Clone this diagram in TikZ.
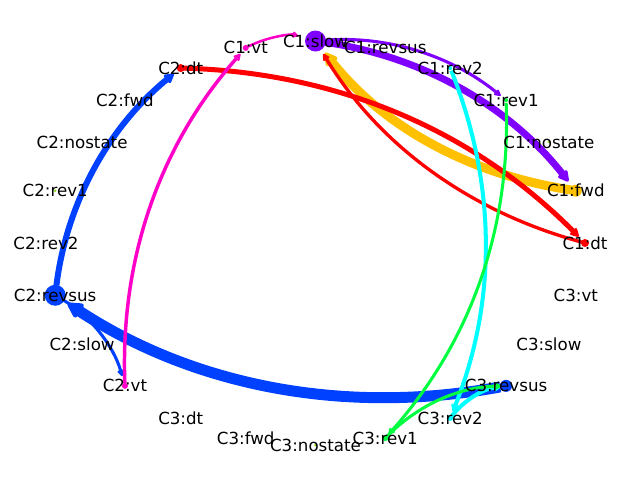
\documentclass[tikz,border=0pt]{standalone}
\usepackage{fontspec}
\setmainfont{DejaVu Sans}
\usetikzlibrary{arrows.meta}

\definecolor{cpurple}{RGB}{128,0,255}
\definecolor{cblue}{RGB}{0,64,255}
\definecolor{ccyan}{RGB}{0,255,255}
\definecolor{cgreen}{RGB}{0,255,64}
\definecolor{clime}{RGB}{150,220,40}
\definecolor{corange}{RGB}{255,192,0}
\definecolor{cred}{RGB}{255,0,0}
\definecolor{cmagenta}{RGB}{255,0,200}

\begin{document}
\begin{tikzpicture}[x=0.72pt,y=-0.72pt,
  font=\fontsize{12}{14}\selectfont,
  edge/.style={-{Triangle[round,length=2.5pt 1.3,width=2.5pt 1.3]},
               bend left=21.8, looseness=0.917},
  lbl/.style={inner sep=0pt, text=black},
  dot/.style={fill=#1, draw=none}]
\useasboundingbox (0,0) rectangle (640,480);

% nodes on an ellipse, 15 degrees apart
\foreach \n/\a in {
  c1slow/90, c1revsus/75, c1rev2/60, c1rev1/45, c1nostate/30, c1fwd/15,
  c1dt/0, c3vt/-15, c3slow/-30, c3revsus/-45, c3rev2/-60, c3rev1/-75,
  c3nostate/-90, c3fwd/-105, c3dt/-120, c2vt/-135, c2slow/-150,
  c2revsus/-165, c2rev2/180, c2rev1/165, c2nostate/150, c2fwd/135,
  c2dt/120, c1vt/105}
  \coordinate (\n) at ({315.5+269.5*cos(\a)},{243-202*sin(\a)});

% connectors, coloured after their source
\draw[edge, cblue, line width=7.9pt, shorten <=4.3pt, shorten >=10.8pt] (c3revsus) to (c2revsus);
\draw[edge, cblue, line width=4.3pt, shorten <=7.2pt, shorten >=6.5pt] (c2revsus) to (c2dt);
\draw[edge, cblue, line width=2.2pt, shorten <=7.2pt, shorten >=7.2pt] (c2revsus) to (c2vt);
\draw[edge, cpurple, line width=5pt, shorten <=7.2pt, shorten >=8.6pt] (c1slow) to (c1fwd);
\draw[edge, cpurple, line width=2.2pt, shorten <=7.2pt, shorten >=5pt] (c1slow) to (c1rev1);
\draw[edge, corange, line width=6.5pt, shorten >=10.8pt] (c1fwd) to (c1slow);
\draw[edge, cred, line width=2.4pt, shorten <=2pt, shorten >=10.8pt] (c1dt) to (c1slow);
\draw[edge, cred, line width=3.6pt, shorten <=2.2pt, shorten >=6.5pt] (c2dt) to (c1dt);
\draw[edge, cmagenta, line width=2.5pt, shorten <=2pt, shorten >=5.8pt] (c2vt) to (c1vt);
\draw[edge, cmagenta, line width=1.8pt, shorten <=2pt, shorten >=13pt] (c1vt) to (c1slow);
\draw[edge, ccyan, line width=2.9pt, shorten <=2pt, shorten >=5pt] (c1rev2) to (c3rev2);
\draw[edge, ccyan, line width=2.9pt, shorten <=2pt, shorten >=3.6pt] (c3rev2) to (c3revsus);
\draw[edge, cgreen, line width=2.2pt, shorten <=2pt, shorten >=3.6pt] (c1rev1) to (c3rev1);
\draw[edge, cgreen, line width=2.2pt, shorten <=2pt, shorten >=3.6pt] (c3rev1) to (c3revsus);

% node markers
\fill[dot=cpurple] (c1slow) circle[radius=10.5];
\fill[dot=cblue] (c2revsus) circle[radius=10.5];
\fill[dot=cblue] (c3revsus) circle[radius=6];
\fill[dot=corange] (c1fwd) circle[radius=6];
\fill[dot=cred] (c1dt) circle[radius=4];
\fill[dot=cred] (c2dt) circle[radius=4];
\fill[dot=cmagenta] (c1vt) circle[radius=3];
\fill[dot=cmagenta] (c2vt) circle[radius=3];
\fill[dot=cgreen] (c3rev1) circle[radius=3];
\fill[dot=ccyan] (c3rev2) circle[radius=3];
\fill[dot=ccyan] (c1rev2) circle[radius=2];
\fill[dot=cgreen] (c1rev1) circle[radius=2];
\fill[dot=clime] (c3nostate) circle[radius=1.5];
\fill[dot=clime] (c2rev1) circle[radius=1.5];
\fill[dot=clime] (c1nostate) circle[radius=1.5];

% labels
\foreach \n/\t in {
  c1slow/C1:slow, c1revsus/C1:revsus, c1rev2/C1:rev2,
  c1rev1/C1:rev1, c1nostate/C1:nostate, c1fwd/C1:fwd,
  c1dt/C1:dt, c3vt/C3:vt, c3slow/C3:slow,
  c3revsus/C3:revsus, c3rev2/C3:rev2, c3rev1/C3:rev1,
  c3nostate/C3:nostate, c3fwd/C3:fwd, c3dt/C3:dt,
  c2vt/C2:vt, c2slow/C2:slow, c2revsus/C2:revsus,
  c2rev2/C2:rev2, c2rev1/C2:rev1, c2nostate/C2:nostate,
  c2fwd/C2:fwd, c2dt/C2:dt, c1vt/C1:vt}
  \node[lbl] (l\n) at (\n) {\t};
\end{tikzpicture}
\end{document}
